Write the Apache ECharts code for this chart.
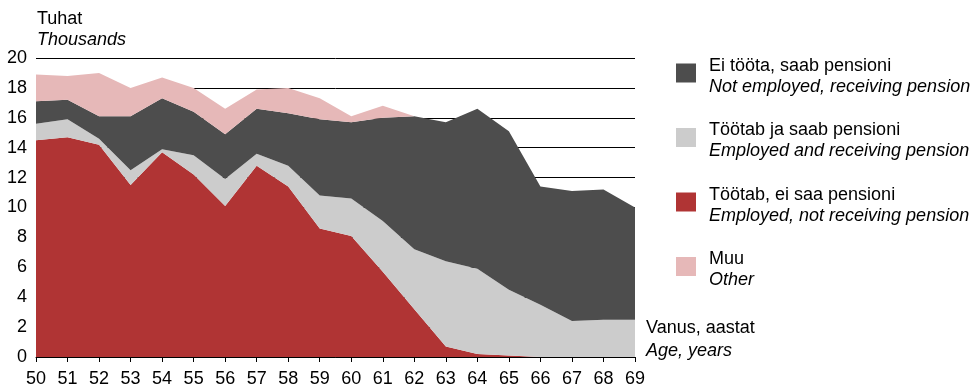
<!DOCTYPE html>
<html>
<head>
<meta charset="utf-8">
<script src="https://cdn.jsdelivr.net/npm/echarts@6/dist/echarts.min.js"></script>
<style>
  html, body { margin: 0; padding: 0; background: #fff; }
  #chart { width: 977px; height: 388px; }
</style>
</head>
<body>
<div id="chart"></div>
<script>
// Age groups (years)
const ages = ['50','51','52','53','54','55','56','57','58','59','60','61','62','63','64','65','66','67','68','69'];

// Thousands of persons, stacked from bottom to top
const employedNoPension = [14.5,14.7,14.2,11.5,13.7,12.2,10.1,12.8,11.4,8.6,8.1,5.7,3.2,0.7,0.2,0.1,0,0,0,0];
const employedWithPension = [1.1,1.2,0.4,1.0,0.2,1.3,1.8,0.8,1.4,2.2,2.5,3.4,4.0,5.7,5.7,4.4,3.5,2.4,2.5,2.5];
const notEmployedPension = [1.5,1.3,1.5,3.6,3.4,2.9,3.0,3.0,3.5,5.1,5.1,6.9,8.9,9.3,10.7,10.6,7.9,8.7,8.7,7.5];
const other = [1.8,1.6,2.9,1.9,1.4,1.6,1.7,1.3,1.7,1.4,0.4,0.8,0.0,0,0,0,0,0,0,0];

const yTicks = { min: 0, max: 20, interval: 2 };

const FONT = '"Liberation Sans", Arial, sans-serif';
const FS = 18;

const names = {
  red: 'Töötab, ei saa pensioni',
  light: 'Töötab ja saab pensioni',
  dark: 'Ei tööta, saab pensioni',
  pink: 'Muu'
};
const english = {
  [names.red]: 'Employed, not receiving pension',
  [names.light]: 'Employed and receiving pension',
  [names.dark]: 'Not employed, receiving pension',
  [names.pink]: 'Other'
};

function areaSeries(name, data, color) {
  return {
    name: name,
    type: 'line',
    stack: 'total',
    data: data,
    symbol: 'none',
    showSymbol: false,
    lineStyle: { width: 0, color: color },
    itemStyle: { color: color },
    areaStyle: { color: color, opacity: 1 },
    emphasis: { disabled: true },
    silent: true
  };
}

const chart = echarts.init(document.getElementById('chart'), null, { renderer: 'canvas' });
chart.setOption({
  animation: false,
  textStyle: { fontFamily: FONT },
  grid: { left: 36, right: 342, top: 58, bottom: 30, containLabel: false },
  xAxis: {
    type: 'category',
    data: ages,
    boundaryGap: false,
    axisLine: { show: true, lineStyle: { color: '#000', width: 1 } },
    axisTick: { show: true, length: 5, lineStyle: { color: '#000' } },
    axisLabel: { color: '#000', fontSize: FS, fontFamily: FONT, margin: 13, interval: 0 },
    splitLine: { show: false }
  },
  yAxis: {
    type: 'value',
    min: yTicks.min,
    max: yTicks.max,
    interval: yTicks.interval,
    axisLine: { show: false },
    axisTick: { show: false },
    axisLabel: { color: '#000', fontSize: FS, fontFamily: FONT, margin: 9 },
    splitLine: { show: true, lineStyle: { color: '#000', width: 1 } }
  },
  legend: {
    orient: 'vertical',
    left: 676,
    top: 57,
    padding: 0,
    itemWidth: 20,
    itemHeight: 19,
    itemGap: 26,
    icon: 'rect',
    selectedMode: false,
    data: [names.dark, names.light, names.red, names.pink],
    formatter: function (n) { return '{a|' + n + '}\n{b|' + english[n] + '}'; },
    textStyle: {
      padding: [0, 0, 0, 8],
      rich: {
        a: { fontSize: FS, fontFamily: FONT, color: '#000', lineHeight: 27, verticalAlign: 'bottom' },
        b: { fontSize: FS, fontFamily: FONT, color: '#000', fontStyle: 'italic', lineHeight: 23 }
      }
    }
  },
  graphic: [
    { type: 'text', left: 37, top: 10, style: { text: 'Tuhat', font: FS + 'px ' + FONT, fill: '#000' } },
    { type: 'text', left: 37, top: 31, style: { text: 'Thousands', font: 'italic ' + FS + 'px ' + FONT, fill: '#000' } },
    { type: 'text', left: 646, top: 319, style: { text: 'Vanus, aastat', font: FS + 'px ' + FONT, fill: '#000' } },
    { type: 'text', left: 646, top: 342, style: { text: 'Age, years', font: 'italic ' + FS + 'px ' + FONT, fill: '#000' } }
  ],
  series: [
    areaSeries(names.red, employedNoPension, '#B03434'),
    areaSeries(names.light, employedWithPension, '#CCCCCC'),
    areaSeries(names.dark, notEmployedPension, '#4D4D4D'),
    areaSeries(names.pink, other, '#E6B8B8')
  ]
});
</script>
</body>
</html>
